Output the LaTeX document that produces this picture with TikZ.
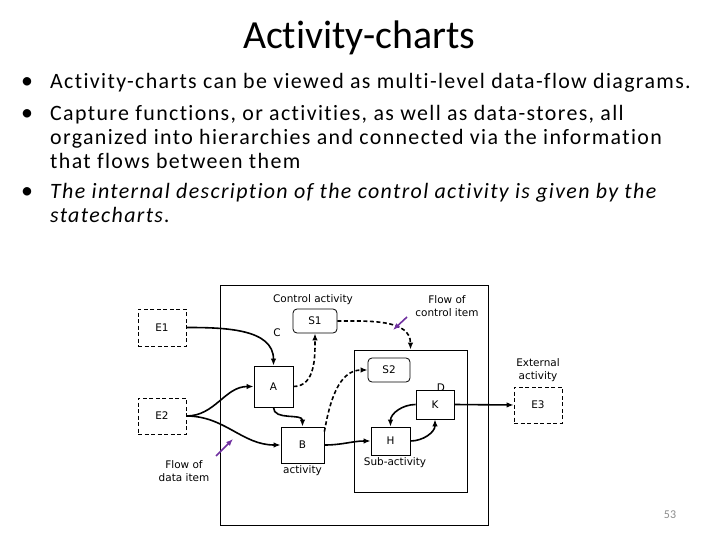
\documentclass[tikz,border=0pt]{standalone}
\usepackage{fontspec}
\setmainfont{Carlito}[Ligatures=NoCommon]
\newfontfamily\bodyfont[LetterSpace=6.2, Ligatures=NoCommon]{Carlito}
\newfontfamily\diagfont{DejaVu Sans}
\usetikzlibrary{arrows.meta, positioning}
\definecolor{notepurple}{RGB}{112,48,160}
\definecolor{pagegray}{RGB}{140,140,140}

\begin{document}
\begin{tikzpicture}[x=1bp, y=-1bp,
  box/.style={rectangle, draw, line width=0.8bp, inner sep=0pt,
    font=\diagfont\fontsize{10.5}{12.5}\selectfont},
  ext/.style={box, dash pattern=on 4bp off 2.5bp},
  state/.style={box, rounded corners=4bp},
  lbl/.style={font=\diagfont\fontsize{10.5}{13}\selectfont, align=center, inner sep=0pt},
  flow/.style={-{Latex[length=7bp,width=5.5bp]}, line width=1.6bp},
  ctl/.style={flow, dash pattern=on 4bp off 2.5bp},
  note/.style={-{Latex[length=7bp,width=5.5bp]}, line width=1.6bp, draw=notepurple},
  txt/.style={font=\bodyfont\fontsize{22}{24}\selectfont, anchor=base west, inner sep=0pt},
  itxt/.style={txt, font=\bodyfont\fontsize{22}{24}\selectfont\itshape},
  bul/.style={font=\fontsize{24}{24}\selectfont, anchor=base, inner sep=0pt}]
  \fill[white] (0,0) rectangle (720,540);
  \useasboundingbox (0,0) rectangle (720,540);

  \node[font=\fontsize{40}{48}\selectfont, anchor=base, inner sep=0pt] (title) at (359,49) {Activity-charts};

  \node[bul] (b1) at (27,89) {•};
  \node[txt] (t1) at (50,89) {Activity-charts can be viewed as multi-level data-flow diagrams.};
  \node[bul] (b2) at (27,121) {•};
  \node[txt] (t2a) at (50,121) {Capture functions, or activities, as well as data-stores, all};
  \node[txt] (t2b) at (50,145) {organized into hierarchies and connected via the information};
  \node[txt] (t2c) at (50,169) {that flows between them};
  \node[bul] (b3) at (27,199) {•};
  \node[itxt] (t3a) at (50,199) {The internal description of the control activity is given by the};
  \node[itxt] (t3b) at (50,223) {statecharts.};

  \node[box, minimum width=268bp, minimum height=240bp] (ctrl) at (354,405) {};
  \node[box, minimum width=113bp, minimum height=142bp] (sub) at (410.5,421) {};

  \node[lbl] (ctrllbl) at (313,300) {Control activity};
  \node[lbl] (c) at (277,333) {C};
  \node[state, minimum width=44bp, minimum height=24bp] (s1) at (315,321) {S1};
  \node[box, minimum width=39bp, minimum height=41bp] (a) at (273.5,386.5) {A};
  \node[box, minimum width=43bp, minimum height=36bp] (b) at (302.5,445) {B};
  \node[lbl, below=2bp of b] (actlbl) {activity};
  \node[state, minimum width=42bp, minimum height=24bp] (s2) at (389,370) {S2};
  \node[box, minimum width=38bp, minimum height=29bp] (k) at (435,404.5) {K};
  \node[lbl] (d) at (441,388) {D};
  \node[box, minimum width=39bp, minimum height=28bp] (h) at (390.5,441) {H};
  \node[lbl] (sublbl) at (395,463) {Sub-activity};

  \node[ext, minimum width=48bp, minimum height=37bp] (e1) at (162,327.5) {E1};
  \node[ext, minimum width=48bp, minimum height=36bp] (e2) at (162,416) {E2};
  \node[ext, minimum width=48bp, minimum height=36bp] (e3) at (538,405) {E3};
  \node[lbl] (extlbl) at (538,370) {External\\activity};
  \node[lbl] (cflbl) at (447,306.5) {Flow of\\control item};
  \node[lbl] (dflbl) at (184,471) {Flow of\\data item};

  \draw[flow] (e1.east) to[out=0, in=90] (a.north);
  \draw[flow] (e2.east) to[out=0, in=180] (a.west);
  \draw[flow] (e2.east) to[out=0, in=180] (b.west);
  \draw[flow] (a.south) to[out=-90, in=90] (b.north);
  \draw[ctl] (a.east) to[out=0, in=-90] (s1.south);
  \draw[ctl] (s1.east) to[out=0, in=90] (sub.north);
  \draw[ctl] ([yshift=-5bp]b.north east) to[out=80, in=180] (s2.west);
  \draw[flow] (b.east) to[out=0, in=180] (h.west);
  \draw[flow] (h.east) to[out=0, in=-90] (k.south);
  \draw[flow] (k.west) to[out=180, in=90] (h.north);
  \draw[flow] (k.east) -- (e3.west);

  \coordinate (cftail) at (407,317);
  \coordinate (cfhead) at (393,330);
  \draw[note] (cftail) -- (cfhead);
  \coordinate (dftail) at (216,456);
  \coordinate (dfhead) at (233,439);
  \draw[note] (dftail) -- (dfhead);

  \node[font=\fontsize{12}{14}\selectfont, text=pagegray] (pg) at (670,515) {53};
\end{tikzpicture}
\end{document}
